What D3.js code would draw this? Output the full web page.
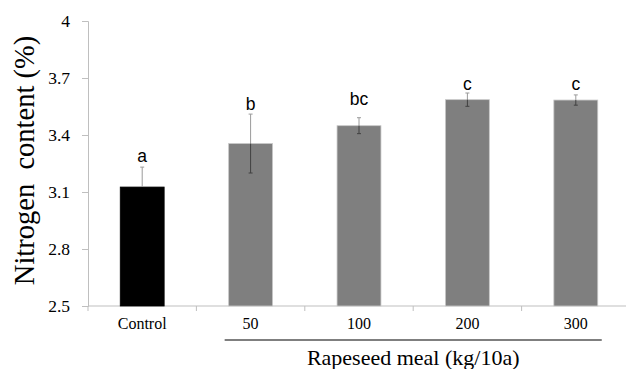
<!DOCTYPE html>
<html>
<head>
<meta charset="utf-8">
<script src="https://cdn.jsdelivr.net/npm/d3@7"></script>
<style>
  body { margin: 0; background: #fff; }
  svg { display: block; }
  .serif { font-family: "Liberation Serif", "Times New Roman", serif; }
  .sans { font-family: "Liberation Sans", Arial, sans-serif; }
</style>
</head>
<body>
<div id="chart"></div>
<script>
// data
var categories = ["Control", "50", "100", "200", "300"];
var values = [3.126, 3.355, 3.449, 3.586, 3.584];
var errors = [0.105, 0.155, 0.042, 0.035, 0.027];
var letters = ["a", "b", "bc", "c", "c"];
var letterPos = [3.258, 3.534, 3.56, 3.639, 3.635];
var yTicks = [2.5, 2.8, 3.1, 3.4, 3.7, 4];
var groupFrom = "50", groupTo = "300";

var svgWidth = 626;
var svgHeight = 369;

var margin = { top: 21, right: -4, bottom: 63, left: 88 };
var width = svgWidth - margin.left - margin.right;
var height = svgHeight - margin.top - margin.bottom;

var svg = d3.select("#chart")
  .append("svg")
  .attr("width", svgWidth)
  .attr("height", svgHeight);

var chartGroup = svg.append("g")
  .attr("transform", `translate(${margin.left}, ${margin.top})`);

var x = d3.scaleBand()
  .domain(categories)
  .range([0, width])
  .paddingInner(0.595)
  .paddingOuter(0.2975);

var y = d3.scaleLinear()
  .domain([2.5, 4])
  .range([height, 0]);

// y axis
var yAxis = chartGroup.append("g")
  .call(d3.axisLeft(y).tickValues(yTicks).tickFormat(d3.format("")).tickSize(6).tickPadding(12));
yAxis.attr("font-family", null).attr("font-size", null);
yAxis.select(".domain").attr("stroke", "#bfbfbf");
yAxis.selectAll(".tick line").attr("stroke", "#bfbfbf");
yAxis.selectAll("text")
  .attr("class", "serif")
  .style("font-size", "17.5px")
  .attr("fill", "#000");

// x axis with ticks between categories
var xAxis = chartGroup.append("g")
  .attr("transform", `translate(0, ${height})`);
xAxis.append("line")
  .attr("x1", 0).attr("x2", width)
  .attr("stroke", "#bfbfbf");
var bounds = d3.range(categories.length + 1).map(i => i * x.step());
xAxis.selectAll("line.sep")
  .data(bounds)
  .enter()
  .append("line")
  .attr("class", "sep")
  .attr("x1", d => d).attr("x2", d => d)
  .attr("y1", 0).attr("y2", 5)
  .attr("stroke", "#bfbfbf");
xAxis.selectAll("text")
  .data(categories)
  .enter()
  .append("text")
  .attr("class", "serif")
  .attr("x", d => x(d) + x.bandwidth() / 2)
  .attr("y", 23)
  .attr("text-anchor", "middle")
  .style("font-size", "16px")
  .text(d => d);

// bars
var rows = categories.map((c, i) => ({ cat: c, v: values[i], e: errors[i], l: letters[i], lp: letterPos[i] }));

chartGroup.selectAll("rect.bar")
  .data(rows)
  .enter()
  .append("rect")
  .attr("class", "bar")
  .attr("x", d => x(d.cat))
  .attr("y", d => y(d.v))
  .attr("width", x.bandwidth())
  .attr("height", d => height - y(d.v))
  .attr("fill", (d, i) => i === 0 ? "#000" : "#7f7f7f")
  .attr("stroke", (d, i) => i === 0 ? "#000" : "#c8c8c8")
  .attr("stroke-width", 0.8);

// error bars
var eb = chartGroup.selectAll("g.err")
  .data(rows)
  .enter()
  .append("g")
  .attr("class", "err")
  .attr("transform", d => `translate(${x(d.cat) + x.bandwidth() / 2}, 0)`);
eb.append("line")
  .attr("y1", d => y(d.v + d.e)).attr("y2", d => y(d.v))
  .attr("stroke", "#9a9a9a");
eb.append("line")
  .attr("y1", d => y(d.v)).attr("y2", d => y(d.v - d.e))
  .attr("stroke", (d, i) => i === 0 ? "#000" : "#404040");
eb.append("line")
  .attr("x1", -2).attr("x2", 2)
  .attr("y1", d => y(d.v + d.e)).attr("y2", d => y(d.v + d.e))
  .attr("stroke", "#9a9a9a");
eb.append("line")
  .attr("x1", -2).attr("x2", 2)
  .attr("y1", d => y(d.v - d.e)).attr("y2", d => y(d.v - d.e))
  .attr("stroke", (d, i) => i === 0 ? "#000" : "#404040");

// significance letters
chartGroup.selectAll("text.sig")
  .data(rows)
  .enter()
  .append("text")
  .attr("class", "sig sans")
  .attr("x", d => x(d.cat) + x.bandwidth() / 2)
  .attr("y", d => y(d.lp))
  .attr("text-anchor", "middle")
  .style("font-size", "17.5px")
  .text(d => d.l);

// group bracket under rapeseed meal doses
var bx1 = x(groupFrom) - 4;
var bx2 = x(groupTo) + x.bandwidth() + 4;
chartGroup.append("line")
  .attr("x1", bx1).attr("x2", bx2)
  .attr("y1", height + 34).attr("y2", height + 34)
  .attr("stroke", "#555")
  .attr("stroke-width", 1.3);

chartGroup.append("text")
  .attr("class", "serif")
  .attr("x", (bx1 + bx2) / 2)
  .attr("y", height + 59)
  .attr("text-anchor", "middle")
  .style("font-size", "22px")
  .text("Rapeseed meal (kg/10a)");

// y title
chartGroup.append("text")
  .attr("class", "serif")
  .attr("transform", "rotate(-90)")
  .attr("x", -(height / 2) + 3)
  .attr("y", -54)
  .attr("text-anchor", "middle")
  .style("font-size", "28.5px")
  .style("white-space", "pre")
  .text("Nitrogen  content (%)");
</script>
</body>
</html>
